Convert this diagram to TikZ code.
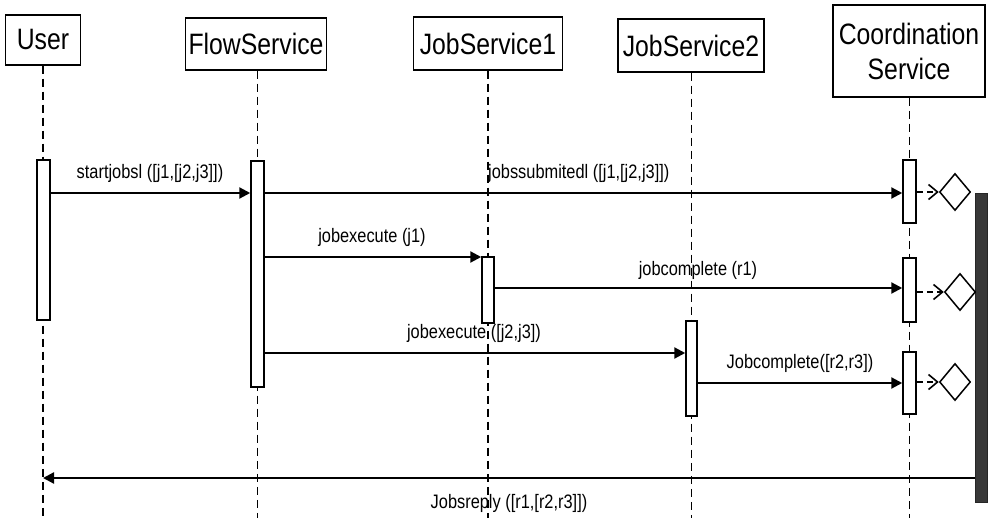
\documentclass[tikz,border=0pt]{standalone}
\usepackage{fontspec}
\setmainfont{Liberation Sans}[FakeStretch=0.84]
\usetikzlibrary{arrows.meta,shapes.geometric}

\tikzset{
  head/.style={draw, line width=1.5pt, fill=white, align=center, inner sep=0pt,
               font=\fontsize{29.5}{35}\selectfont},
  lifeline/.style={line width=1.6pt, dash pattern=on 8pt off 5pt},
  act/.style={draw, line width=1.5pt, fill=white, minimum width=13pt, inner sep=0pt},
  msg/.style={line width=2.2pt, -{Triangle[length=11pt,width=11pt]}},
  msglabel/.style={font=\fontsize{19.5}{22}\selectfont, inner sep=1pt},
  choice/.style={draw, line width=1.5pt, shape=diamond, inner sep=0pt, aspect=0.83,
                 minimum width=31pt, minimum height=37pt},
  branch/.style={line width=1.6pt, dash pattern=on 6pt off 4pt,
                 -{Straight Barb[length=9pt,width=15pt]}},
}

\begin{document}
\begin{tikzpicture}[x=1pt, y=-1pt]
  \useasboundingbox (0,0) rectangle (988,518);

  % participants
  \node[head, minimum width=75pt,  minimum height=50pt] (uH) at (43,40)  {User};
  \node[head, minimum width=141pt, minimum height=52pt] (fH) at (256,44) {FlowService};
  \node[head, minimum width=149pt, minimum height=53pt] (j1H) at (488,43.5) {JobService1};
  \node[head, minimum width=146pt, minimum height=53pt] (j2H) at (691,45.5) {JobService2};
  \node[head, minimum width=152pt, minimum height=92pt] (cH) at (909,51) {Coordination\\Service};

  % lifeline ends at the bottom edge
  \coordinate (uE)  at (43,518);
  \coordinate (fE)  at (257.5,518);
  \coordinate (j1E) at (488,518);
  \coordinate (j2E) at (691.5,518);
  \coordinate (cE)  at (909.5,518);

  \draw[lifeline] (uH.south -| uE) -- (uE);
  \draw[lifeline] (fH.south -| fE) -- (fE);
  \draw[lifeline] (j1H.south -| j1E) -- (j1E);
  \draw[lifeline] (j2H.south -| j2E) -- (j2E);
  \draw[lifeline] (cH.south -| cE) -- (cE);

  % activation bars
  \node[act, minimum height=160pt] (uA)  at (43.5,240) {};
  \node[act, minimum height=226pt] (fA)  at (257.5,274) {};
  \node[act, minimum width=12pt, minimum height=66pt] (j1A) at (488,290) {};
  \node[act, minimum width=11pt, minimum height=95pt] (j2A) at (691.5,368.5) {};
  \node[act, minimum height=63pt] (cA1) at (909.5,191.5) {};
  \node[act, minimum height=64pt] (cA2) at (909.5,290) {};
  \node[act, minimum height=62pt] (cA3) at (909.5,383) {};

  % join bar
  \node[draw=black!85, line width=0.8pt, fill=black!78, minimum width=12pt,
        minimum height=309pt, inner sep=0pt] (bar) at (981,347.5) {};

  % decision diamonds
  \node[choice] (d1) at (955,192) {};
  \node[choice] (d2) at (960,292) {};
  \node[choice] (d3) at (955,382) {};

  \draw[branch] (cA1.east |- d1) -- (d1.west);
  \draw[branch] (cA2.east |- d2) -- (d2.west);
  \draw[branch] (cA3.east |- d3) -- (d3.west);

  % message rows
  \coordinate (m1) at (0,193);
  \coordinate (m2) at (0,257);
  \coordinate (m3) at (0,288);
  \coordinate (m4) at (0,353);
  \coordinate (m5) at (0,383);
  \coordinate (m6) at (0,478);

  \draw[msg] (uA.east |- m1) -- (fA.west |- m1);
  \draw[msg] (fA.east |- m1) -- (cA1.west |- m1);
  \draw[msg] (fA.east |- m2) -- (j1A.west |- m2);
  \draw[msg] (j1A.east |- m3) -- (cA2.west |- m3);
  \draw[msg] (fA.east |- m4) -- (j2A.west |- m4);
  \draw[msg] (j2A.east |- m5) -- (cA3.west |- m5);
  \draw[msg] (bar.west |- m6) -- (uE |- m6);

  % message labels
  \node[msglabel] (l1) at (150,173) {startjobsl ([j1,[j2,j3]])};
  \node[msglabel, anchor=west] (l2) at (487,173) {jobssubmitedl ([j1,[j2,j3]])};
  \node[msglabel] (l3) at (372,237) {jobexecute (j1)};
  \node[msglabel] (l4) at (698,270) {jobcomplete (r1)};
  \node[msglabel] (l5) at (474,333) {jobexecute ([j2,j3])};
  \node[msglabel] (l6) at (800,363) {Jobcomplete([r2,r3])};
  \node[msglabel] (l7) at (509,503) {Jobsreply ([r1,[r2,r3]])};
\end{tikzpicture}
\end{document}
